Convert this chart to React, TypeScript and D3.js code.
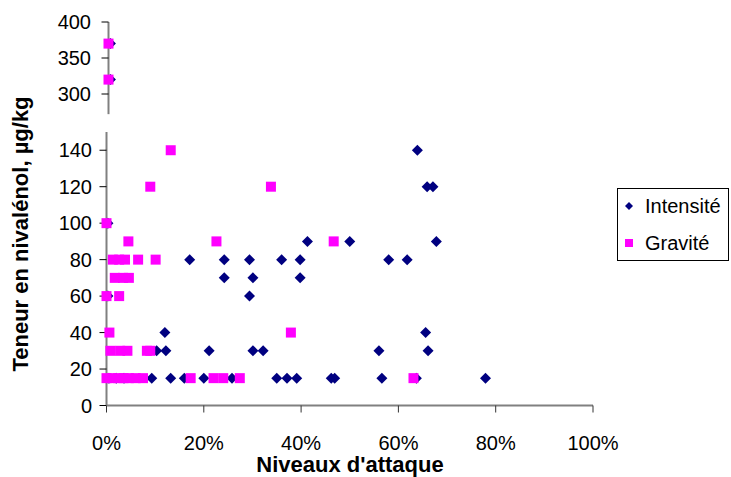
import React from "react";
import * as d3 from "d3";

// Intensité series: [niveau d'attaque (%), teneur (µg/kg)]
const intensiteHigh: [number, number][] = [
  [0.4, 370], [0.4, 320],
];
const intensiteLow: [number, number][] = [
  [0.3, 100], [0.3, 60],
  [63.9, 140], [65.9, 120], [67.1, 120],
  [41.3, 90], [50, 90], [67.8, 90],
  [17.1, 80], [24.2, 80], [29.4, 80], [36, 80], [39.8, 80], [58, 80], [61.8, 80],
  [24.2, 70], [30.1, 70], [39.8, 70],
  [29.4, 60],
  [12, 40], [65.6, 40],
  [10.3, 30], [12.2, 30], [21.1, 30], [30.1, 30], [32.2, 30], [56, 30], [66.1, 30],
  [0.5, 15], [2, 15], [3.6, 15], [9.3, 15], [13.2, 15], [16, 15], [20, 15], [25.8, 15],
  [35, 15], [37.1, 15], [39.1, 15], [46.2, 15], [46.9, 15], [56.6, 15], [63.7, 15], [77.9, 15],
];

// Gravité series
const graviteHigh: [number, number][] = [
  [0, 370], [0, 320],
];
const graviteLow: [number, number][] = [
  [13.2, 140],
  [9, 120], [33.8, 120],
  [0, 100],
  [4.5, 90], [22.6, 90], [46.7, 90],
  [1.3, 80], [2.6, 80], [3.8, 80], [6.5, 80], [10.1, 80],
  [1.7, 70], [3.4, 70], [4.6, 70],
  [0, 60], [2.6, 60],
  [0.6, 40], [37.9, 40],
  [0.8, 30], [2.8, 30], [4.3, 30], [8.3, 30], [9, 30],
  [0, 15], [1.1, 15], [2.4, 15], [3.5, 15], [4.6, 15], [6, 15], [7.5, 15],
  [17.3, 15], [22, 15], [24, 15], [27.4, 15], [63.1, 15],
];

const xTicks = [0, 20, 40, 60, 80, 100];
const yTicksLow = [0, 20, 40, 60, 80, 100, 120, 140];
const yTicksHigh = [300, 350, 400];
const seriesNames = ["Intensité", "Gravité"];
const xTitle = "Niveaux d'attaque";
const yTitle = "Teneur en nivalénol, µg/kg";

const NAVY = "#000080";
const PINK = "#FF00FF";
const FONT = "'Liberation Sans', Arial, sans-serif";

const x = d3.scaleLinear().domain([0, 100]).range([106.5, 593]);
const xHigh = d3.scaleLinear().domain([0, 100]).range([108.5, 595]);
const yLow = d3.scaleLinear().domain([0, 150]).range([405.5, 132]);
const yHigh = d3.scaleLinear().domain([300, 400]).range([94, 22]);

const diamond = (cx: number, cy: number) =>
  `M${cx},${cy - 5.5}L${cx + 5.5},${cy}L${cx},${cy + 5.5}L${cx - 5.5},${cy}Z`;

function Diamonds({ data, xs, ys }: { data: [number, number][]; xs: any; ys: any }) {
  return (
    <g>
      {data.map((d, i) => (
        <path key={i} d={diamond(xs(d[0]), ys(d[1]))} fill={NAVY} />
      ))}
    </g>
  );
}

function Squares({ data, xs, ys }: { data: [number, number][]; xs: any; ys: any }) {
  return (
    <g>
      {data.map((d, i) => (
        <rect key={i} x={xs(d[0]) - 5} y={ys(d[1]) - 5} width={10} height={10} fill={PINK} />
      ))}
    </g>
  );
}

export default function App() {
  const axisX = x(0);
  const axisXHigh = xHigh(0);
  const baseY = yLow(0);
  return (
    <svg
      width={731}
      height={477}
      style={{ position: "absolute", left: 0, top: 0, background: "#fff" }}
      fontFamily={FONT}
    >
      <rect x={0} y={0} width={731} height={477} fill="#fff" />

      {/* upper panel axis */}
      <line x1={axisXHigh} x2={axisXHigh} y1={yHigh(400)} y2={yHigh(272)} stroke="#808080" strokeWidth={2} />
      {yTicksHigh.map((t) => (
        <g key={t}>
          <line x1={axisXHigh - 7} x2={axisXHigh} y1={yHigh(t)} y2={yHigh(t)} stroke="#000" strokeWidth={1} />
          <text x={91} y={yHigh(t)} dy="0.35em" textAnchor="end" fontSize={20} fill="#000">
            {t}
          </text>
        </g>
      ))}

      {/* lower panel axes */}
      <line x1={axisX} x2={axisX} y1={yLow(150)} y2={baseY} stroke="#808080" strokeWidth={2} />
      {yTicksLow.map((t) => (
        <g key={t}>
          <line x1={axisX - 7} x2={axisX} y1={yLow(t)} y2={yLow(t)} stroke="#000" strokeWidth={1} />
          <text x={92} y={yLow(t)} dy="0.35em" textAnchor="end" fontSize={20} fill="#000">
            {t}
          </text>
        </g>
      ))}
      <line x1={axisX} x2={x(100)} y1={baseY} y2={baseY} stroke="#808080" strokeWidth={2} />
      {xTicks.map((t) => (
        <g key={t}>
          <line x1={x(t)} x2={x(t)} y1={baseY} y2={baseY + 7} stroke="#333" strokeWidth={1} />
          <text x={x(t)} y={450} textAnchor="middle" fontSize={20} fill="#000">
            {t}%
          </text>
        </g>
      ))}

      {/* points */}
      <Diamonds data={intensiteHigh} xs={xHigh} ys={yHigh} />
      <Diamonds data={intensiteLow} xs={x} ys={yLow} />
      <Squares data={graviteHigh} xs={xHigh} ys={yHigh} />
      <Squares data={graviteLow} xs={x} ys={yLow} />

      {/* titles */}
      <text x={350} y={472} textAnchor="middle" fontSize={22} fontWeight="bold" fill="#000">
        {xTitle}
      </text>
      <text
        transform="translate(28,234) rotate(-90)"
        textAnchor="middle"
        fontSize={22}
        fontWeight="bold"
        fill="#000"
      >
        {yTitle}
      </text>

      {/* legend */}
      <rect x={617.5} y={188.5} width={111} height={72} fill="#fff" stroke="#000" strokeWidth={1} />
      <path d={`M629,${206 - 4}L633,206L629,${206 + 4}L625,206Z`} fill={NAVY} />
      <text x={645} y={206} dy="0.35em" fontSize={20} fill="#000">
        {seriesNames[0]}
      </text>
      <rect x={625} y={239} width={8} height={8} fill={PINK} />
      <text x={645} y={243} dy="0.35em" fontSize={20} fill="#000">
        {seriesNames[1]}
      </text>
    </svg>
  );
}
